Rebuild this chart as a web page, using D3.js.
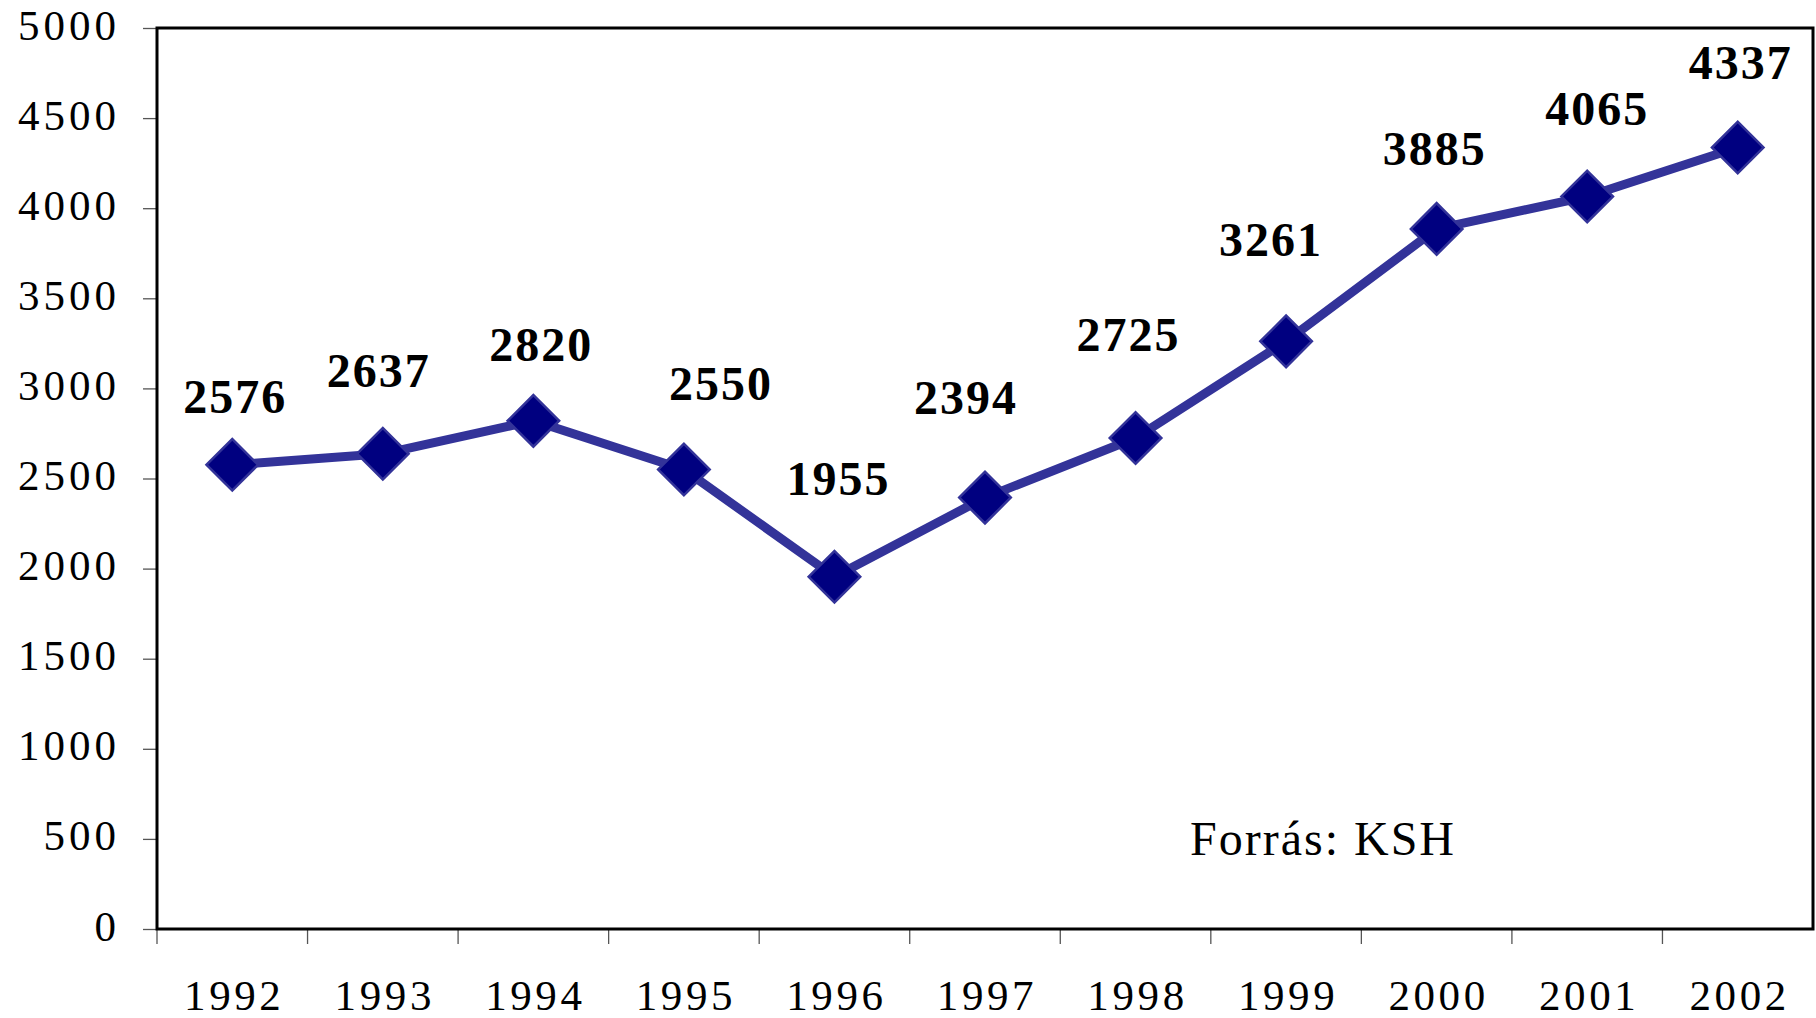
<!DOCTYPE html>
<html>
<head>
<meta charset="utf-8">
<script src="https://cdn.jsdelivr.net/npm/d3@7"></script>
<style>
  body { margin: 0; background: #fff; }
  text { font-family: "Liberation Serif", "Times New Roman", serif; }
</style>
</head>
<body>
<div class="chart"></div>
<script>
const years = ["1992","1993","1994","1995","1996","1997","1998","1999","2000","2001","2002"];
const values = [2576, 2637, 2820, 2550, 1955, 2394, 2725, 3261, 3885, 4065, 4337];
const yTicks = [0, 500, 1000, 1500, 2000, 2500, 3000, 3500, 4000, 4500, 5000];
const sourceNote = "Forrás: KSH";
// hand-placed label nudges (px) as in the original
const labelNudge = [[2,-68],[-5,-83],[7,-76],[36,-86],[3,-98],[-20,-100],[-8,-103],[-16,-102],[-3,-80],[9,-88],[2,-85]];

const data = years.map((y, i) => ({year: y, value: values[i], nudge: labelNudge[i]}));

const width = 1816, height = 1018;
const plot = {left: 157, right: 1813, top: 28, bottom: 929};

const svg = d3.select(".chart").append("svg")
  .attr("width", width)
  .attr("height", height);

const xScale = d3.scaleBand()
  .domain(years)
  .range([plot.left, plot.right])
  .padding(0);

const yScale = d3.scaleLinear()
  .domain([0, 5000])
  .range([plot.bottom, plot.top]);

// y axis ticks + labels
const yAxis = d3.axisLeft(yScale)
  .tickValues(yTicks)
  .tickSize(14)
  .tickPadding(0)
  .tickFormat(d3.format("d"));

svg.append("g")
  .attr("class", "axis y-axis")
  .attr("transform", `translate(${plot.left},0)`)
  .call(yAxis)
  .call(g => g.select(".domain").remove())
  .call(g => g.selectAll(".tick line").attr("stroke", "#555").attr("stroke-width", 1.3))
  .call(g => g.selectAll(".tick text")
    .attr("x", -37)
    .attr("dy", null)
    .attr("y", 11)
    .attr("fill", "#000")
    .attr("font-size", 43)
    .attr("letter-spacing", 4)
    .attr("font-family", "Liberation Serif, Times New Roman, serif")
  );

// x axis: boundary ticks and centered labels
const bounds = years.map(y => xScale(y));
const xg = svg.append("g").attr("class", "axis x-axis");
xg.selectAll("line")
  .data(bounds)
  .enter()
  .append("line")
  .attr("x1", d => d).attr("x2", d => d)
  .attr("y1", plot.bottom).attr("y2", plot.bottom + 15)
  .attr("stroke", "#555")
  .attr("stroke-width", 1.3);

xg.selectAll("text")
  .data(years)
  .enter()
  .append("text")
  .attr("x", d => xScale(d) + xScale.bandwidth() / 2 + 2)
  .attr("y", 1010)
  .attr("text-anchor", "middle")
  .attr("font-size", 43)
  .attr("letter-spacing", 3.6)
  .text(d => d);

// frame
svg.append("rect")
  .attr("x", plot.left)
  .attr("y", plot.top)
  .attr("width", plot.right - plot.left)
  .attr("height", plot.bottom - plot.top)
  .attr("fill", "none")
  .attr("stroke", "#000")
  .attr("stroke-width", 3);

// line
const line = d3.line()
  .x(d => xScale(d.year) + xScale.bandwidth() / 2)
  .y(d => yScale(d.value));

svg.append("path")
  .datum(data)
  .attr("fill", "none")
  .attr("stroke", "#333399")
  .attr("stroke-width", 9)
  .attr("stroke-linejoin", "round")
  .attr("d", line);

// diamond markers
const diamond = d3.symbol(d3.symbolSquare, 1330);
svg.selectAll(".marker")
  .data(data)
  .enter()
  .append("path")
  .attr("class", "marker")
  .attr("d", diamond)
  .attr("transform", d => `translate(${xScale(d.year) + xScale.bandwidth() / 2},${yScale(d.value)}) rotate(45)`)
  .attr("fill", "#000080")
  .attr("stroke", "#333399")
  .attr("stroke-width", 2.5);

// value labels
svg.selectAll(".vlabel")
  .data(data)
  .enter()
  .append("text")
  .attr("class", "vlabel")
  .attr("x", d => xScale(d.year) + xScale.bandwidth() / 2 + d.nudge[0] + 1)
  .attr("y", d => yScale(d.value) + d.nudge[1])
  .attr("dy", "0.34em")
  .attr("text-anchor", "middle")
  .attr("font-size", 48)
  .attr("font-weight", "bold")
  .attr("letter-spacing", 2)
  .attr("fill", "#000")
  .text(d => d.value);

// source note
svg.append("text")
  .attr("x", 1190)
  .attr("y", 855)
  .attr("font-size", 48)
  .attr("letter-spacing", 2)
  .attr("fill", "#000")
  .text(sourceNote);
</script>
</body>
</html>
